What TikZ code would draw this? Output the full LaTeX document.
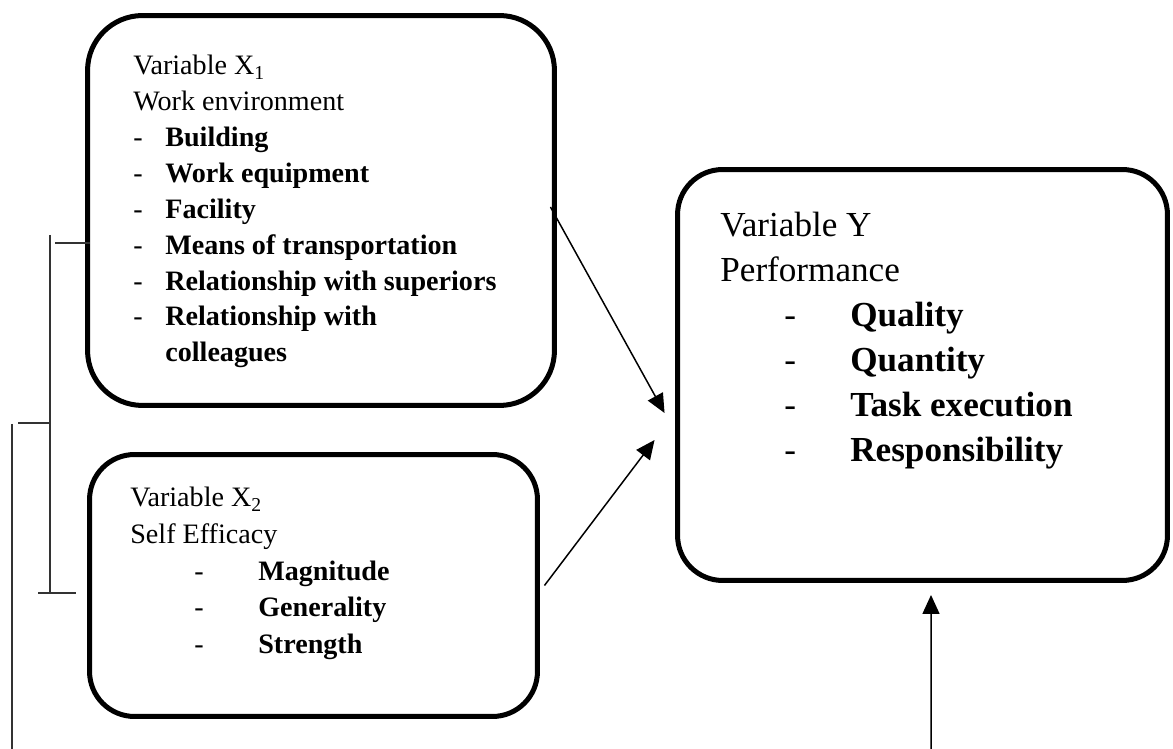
\documentclass[tikz,border=0pt]{standalone}
\usepackage{fontspec}
\setmainfont{Liberation Serif}
\usetikzlibrary{arrows.meta,calc}

\begin{document}
\begin{tikzpicture}[x=0.02cm,y=-0.02cm,
	varbox/.style={draw=black,line width=2.85pt,rounded corners=0.9cm,inner sep=0pt},
	vartext/.style={anchor=base west,inner sep=0pt},
	brack/.style={draw=black!80,line width=1pt},
	>={Triangle[length=0.38cm,width=0.34cm]}]
	\useasboundingbox (0,0) rectangle (1173,749);
	% boxes
	\node[varbox,rounded corners=1.1cm,minimum width=9.34cm,minimum height=7.8cm] (x1) at (321,210.5){};
	\node[varbox,minimum width=8.96cm,minimum height=5.24cm] (x2) at (313.5,585.5){};
	\node[varbox,minimum width=9.8cm,minimum height=8.22cm] (yv) at (922.5,375){};
	% texts
	\node[vartext,font=\fontsize{16}{20.4}\selectfont] (x1txt) at (133,75){%
		\begin{tabular}[t]{@{}p{0.64cm}@{}l@{}}
		\multicolumn{2}{@{}l@{}}{Variable X\textsubscript{1}}\\
		\multicolumn{2}{@{}l@{}}{Work environment}\\
		- & \textbf{Building}\\
		- & \textbf{Work equipment}\\
		- & \textbf{Facility}\\
		- & \textbf{Means of transportation}\\
		- & \textbf{Relationship with superiors}\\
		- & \textbf{Relationship with}\\
		 & \textbf{colleagues}
		\end{tabular}};
	\node[vartext,font=\fontsize{16}{20.8}\selectfont] (x2txt) at (130,507){%
		\begin{tabular}[t]{@{}p{2.56cm}@{}l@{}}
		\multicolumn{2}{@{}l@{}}{Variable X\textsubscript{2}}\\
		\multicolumn{2}{@{}l@{}}{Self Efficacy}\\
		\hspace*{1.28cm}- & \textbf{Magnitude}\\
		\hspace*{1.28cm}- & \textbf{Generality}\\
		\hspace*{1.28cm}- & \textbf{Strength}
		\end{tabular}};
	\node[vartext,font=\fontsize{20}{25.6}\selectfont] (ytxt) at (720,237){%
		\begin{tabular}[t]{@{}p{2.6cm}@{}l@{}}
		\multicolumn{2}{@{}l@{}}{Variable Y}\\
		\multicolumn{2}{@{}l@{}}{Performance}\\
		\hspace*{1.28cm}- & \textbf{Quality}\\
		\hspace*{1.28cm}- & \textbf{Quantity}\\
		\hspace*{1.28cm}- & \textbf{Task execution}\\
		\hspace*{1.28cm}- & \textbf{Responsibility}
		\end{tabular}};
	% arrows
	\coordinate (ybot) at (931,749);
	\draw[->,line width=0.85pt] ($(x1.east)+(-6.5,-3.5)$) -- ($(yv.west)+(-10.5,38)$);
	\draw[->,line width=0.85pt] ($(x2.east)+(4.5,0)$) -- ($(yv.west)+(-20.5,65)$);
	\draw[->,line width=0.85pt] (ybot) -- ($(yv.south)+(8.5,12)$);
	% bracket on the left
	\draw[brack] (50,235) -- (50,593);
	\draw[brack] (55,243) -- (90,243);
	\draw[brack] (18,423) -- (50,423);
	\draw[brack] (38,593) -- (76,593);
	\draw[brack] (12,424) -- (12,749);
\end{tikzpicture}
\end{document}
